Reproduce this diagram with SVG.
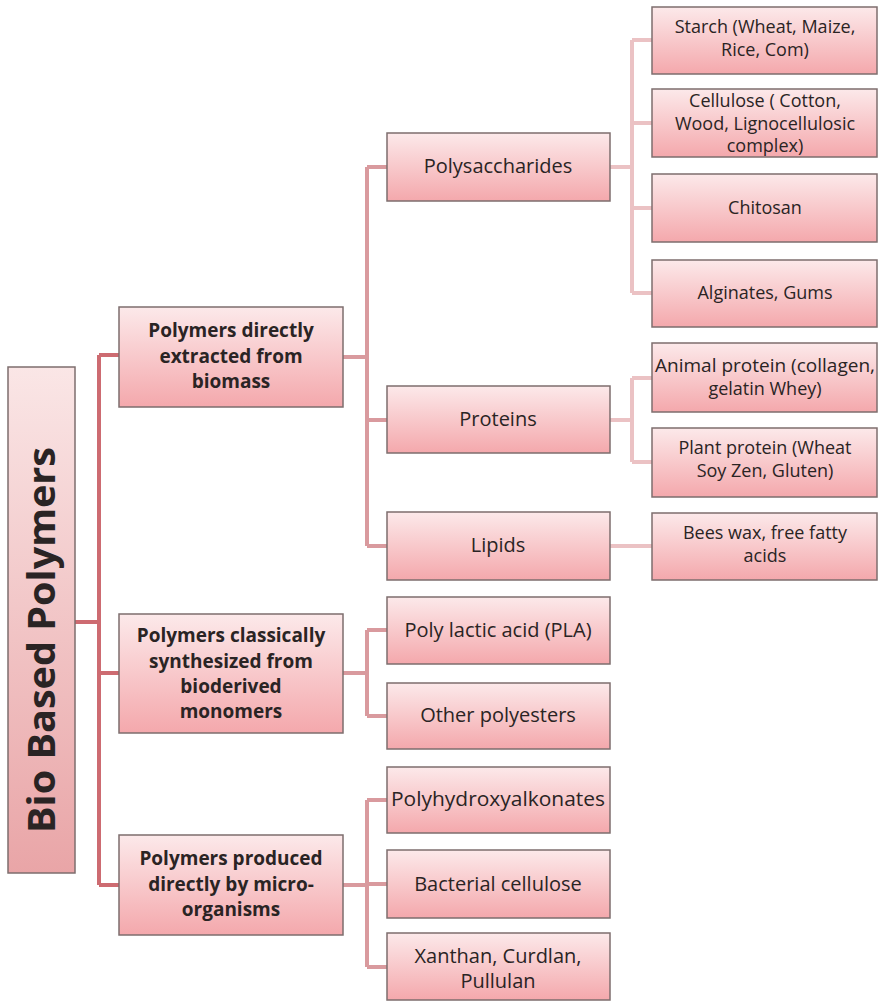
<svg xmlns="http://www.w3.org/2000/svg" width="878" height="1001" viewBox="0 0 878 1001">
  <defs>
    <linearGradient id="boxGrad" x1="0" y1="0" x2="0" y2="1">
      <stop offset="0" stop-color="#fce9ea"/>
      <stop offset="1" stop-color="#f4a8ac"/>
    </linearGradient>
    <linearGradient id="rootGrad" x1="0" y1="0" x2="0" y2="1">
      <stop offset="0" stop-color="#fae6e6"/>
      <stop offset="1" stop-color="#e9a5a7"/>
    </linearGradient>
    <style>
      .box { fill: url(#boxGrad); stroke: #7d6e6e; stroke-width: 1.5; }
      .root { fill: url(#rootGrad); stroke: #7d6e6e; stroke-width: 1.5; }
      .t { font-family: "Open Sans", Lato, "Liberation Sans", sans-serif; fill: #2a2424; text-anchor: middle; }
      .t1 { font-size: 19px; font-weight: bold; }
      .t2 { font-size: 20px; }
      .t3 { font-size: 18px; }
      .tr { font-size: 37px; font-weight: bold; }
      .c0 { fill: none; stroke: #cd6b71; stroke-width: 4; }
      .c1 { fill: none; stroke: #d99a9e; stroke-width: 4; }
      .c2 { fill: none; stroke: #ebc2c4; stroke-width: 4; }
    </style>
  </defs>

  <g id="connectors">
    <path class="c0" d="M75 622 H99 M99 355 V885 M99 355 H119 M99 673 H119 M99 885 H119"/>
    <path class="c1" d="M343 357 H367 M367 167 V546 M367 167 H387 M367 420 H387 M367 546 H387"/>
    <path class="c1" d="M343 673 H367 M367 630 V716 M367 630 H387 M367 716 H387"/>
    <path class="c1" d="M343 885 H367 M367 800 V967 M367 800 H387 M367 884 H387 M367 967 H387"/>
    <path class="c2" d="M610 167 H632 M632 40 V293 M632 40 H652 M632 123 H652 M632 208 H652 M632 293 H652"/>
    <path class="c2" d="M610 420 H632 M632 378 V462 M632 378 H652 M632 462 H652"/>
    <path class="c2" d="M610 546 H652"/>
  </g>

  <g id="root">
    <rect class="root" x="8" y="367" width="67" height="506"/>
    <text class="t tr" transform="translate(55 640) rotate(-90)" textLength="386" lengthAdjust="spacingAndGlyphs">Bio Based Polymers</text>
  </g>

  <g id="l1-extracted">
    <rect class="box" x="119" y="307" width="224" height="100"/>
    <text class="t t1"><tspan x="231" y="337">Polymers directly</tspan><tspan x="231" y="363">extracted from</tspan><tspan x="231" y="388">biomass</tspan></text>
  </g>
  <g id="l1-synthesized">
    <rect class="box" x="119" y="614" width="224" height="119"/>
    <text class="t t1"><tspan x="231" y="642">Polymers classically</tspan><tspan x="231" y="668">synthesized from</tspan><tspan x="231" y="693">bioderived</tspan><tspan x="231" y="718">monomers</tspan></text>
  </g>
  <g id="l1-micro">
    <rect class="box" x="119" y="835" width="224" height="100"/>
    <text class="t t1"><tspan x="231" y="865">Polymers produced</tspan><tspan x="231" y="891">directly by micro-</tspan><tspan x="231" y="916">organisms</tspan></text>
  </g>

  <g id="l2-polysaccharides">
    <rect class="box" x="387" y="133" width="223" height="68"/>
    <text class="t t2" x="498" y="173">Polysaccharides</text>
  </g>
  <g id="l2-proteins">
    <rect class="box" x="387" y="386" width="223" height="67"/>
    <text class="t t2" x="498" y="426">Proteins</text>
  </g>
  <g id="l2-lipids">
    <rect class="box" x="387" y="512" width="223" height="68"/>
    <text class="t t2" x="498" y="552">Lipids</text>
  </g>
  <g id="l2-pla">
    <rect class="box" x="387" y="597" width="223" height="67"/>
    <text class="t t2" x="498" y="637">Poly lactic acid (PLA)</text>
  </g>
  <g id="l2-polyesters">
    <rect class="box" x="387" y="683" width="223" height="66"/>
    <text class="t t2" x="498" y="722">Other  polyesters</text>
  </g>
  <g id="l2-pha">
    <rect class="box" x="387" y="767" width="223" height="66"/>
    <text class="t t2" x="498" y="806" textLength="214" lengthAdjust="spacingAndGlyphs">Polyhydroxyalkonates</text>
  </g>
  <g id="l2-bacterial">
    <rect class="box" x="387" y="850" width="223" height="68"/>
    <text class="t t2" x="498" y="891">Bacterial cellulose</text>
  </g>
  <g id="l2-xanthan">
    <rect class="box" x="387" y="933" width="223" height="67"/>
    <text class="t t2"><tspan x="498" y="963">Xanthan, Curdlan,</tspan><tspan x="498" y="988">Pullulan</tspan></text>
  </g>

  <g id="l3-starch">
    <rect class="box" x="652" y="7" width="225" height="67"/>
    <text class="t t3"><tspan x="765" y="33">Starch (Wheat, Maize,</tspan><tspan x="765" y="56">Rice, Com)</tspan></text>
  </g>
  <g id="l3-cellulose">
    <rect class="box" x="652" y="89" width="225" height="68"/>
    <text class="t t3"><tspan x="765" y="107">Cellulose ( Cotton,</tspan><tspan x="765" y="130">Wood, Lignocellulosic</tspan><tspan x="765" y="152">complex)</tspan></text>
  </g>
  <g id="l3-chitosan">
    <rect class="box" x="652" y="174" width="225" height="68"/>
    <text class="t t3" x="765" y="214">Chitosan</text>
  </g>
  <g id="l3-alginates">
    <rect class="box" x="652" y="260" width="225" height="67"/>
    <text class="t t3" x="765" y="299">Alginates, Gums</text>
  </g>
  <g id="l3-animal">
    <rect class="box" x="652" y="343" width="225" height="69"/>
    <text class="t t3"><tspan x="765" y="372" textLength="220" lengthAdjust="spacingAndGlyphs">Animal protein (collagen,</tspan><tspan x="765" y="395">gelatin Whey)</tspan></text>
  </g>
  <g id="l3-plant">
    <rect class="box" x="652" y="428" width="225" height="69"/>
    <text class="t t3"><tspan x="765" y="454">Plant protein (Wheat</tspan><tspan x="765" y="477">Soy Zen, Gluten)</tspan></text>
  </g>
  <g id="l3-beeswax">
    <rect class="box" x="652" y="513" width="225" height="67"/>
    <text class="t t3"><tspan x="765" y="539">Bees wax, free fatty</tspan><tspan x="765" y="562">acids</tspan></text>
  </g>
</svg>
